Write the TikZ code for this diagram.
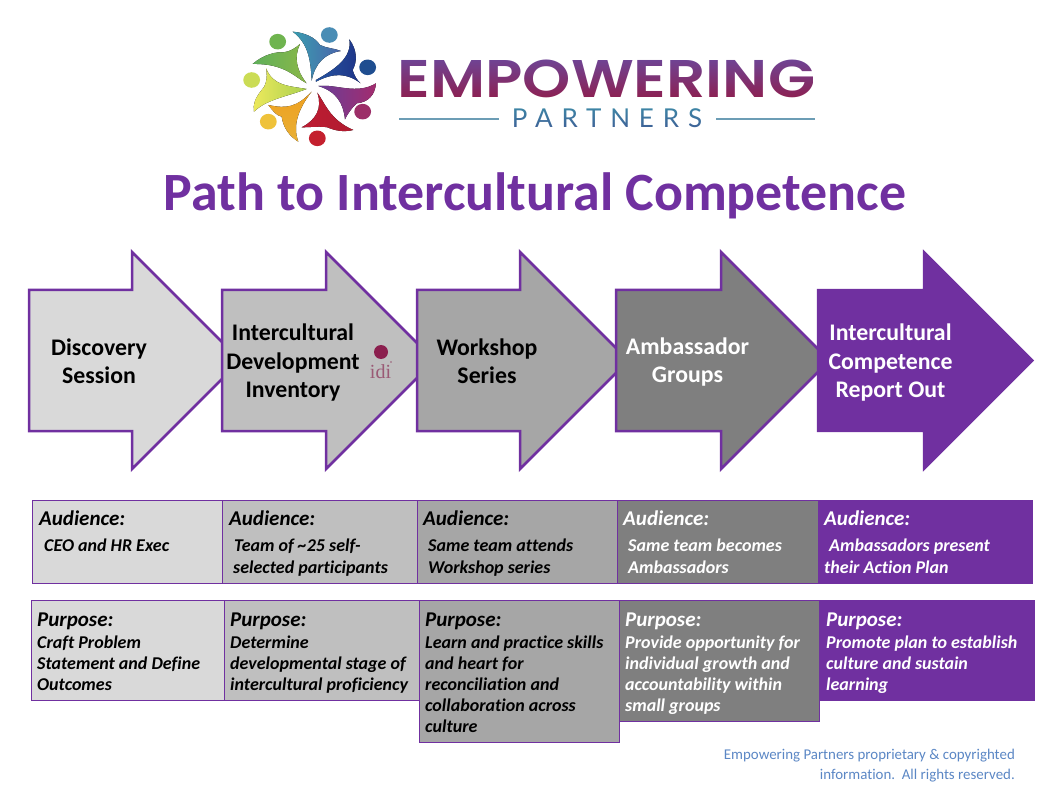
\documentclass[tikz,border=0pt]{standalone}
\usepackage{fontspec}
\usetikzlibrary{shapes.geometric}
\setmainfont{Carlito}[Ligatures=NoCommon]
\newfontfamily\logofont{Poppins SemiBold}
\newfontfamily\partfont[LetterSpace=34]{Lato}
\newfontfamily\idifont{Liberation Serif}
\definecolor{epurple}{HTML}{7030A0}
\definecolor{g1}{HTML}{D9D9D9}
\definecolor{g2}{HTML}{BFBFBF}
\definecolor{g3}{HTML}{A6A6A6}
\definecolor{g4}{HTML}{7F7F7F}
\definecolor{footblue}{HTML}{5B87C5}
\definecolor{idired}{HTML}{8B1F4E}
\definecolor{idifade}{HTML}{9A5A75}
\definecolor{logoline}{HTML}{6C9DB5}
\definecolor{emtop}{HTML}{6E4596}
\definecolor{embot}{HTML}{8E1E4E}
\definecolor{patop}{HTML}{3E8CA8}
\definecolor{pabot}{HTML}{3E5A94}
\definecolor{tealA}{HTML}{3A9DB0}\definecolor{tealB}{HTML}{4A64AA}\definecolor{tealH}{HTML}{4A8DB5}
\definecolor{navyA}{HTML}{2654A0}\definecolor{navyB}{HTML}{1E3487}\definecolor{navyH}{HTML}{1F4E90}
\definecolor{purpA}{HTML}{6A3E98}\definecolor{purpB}{HTML}{A32C6E}\definecolor{purpH}{HTML}{9C2E68}
\definecolor{redA}{HTML}{BE1C32}\definecolor{redB}{HTML}{B01C30}\definecolor{redH}{HTML}{C4202E}
\definecolor{oranA}{HTML}{EFA01F}\definecolor{oranB}{HTML}{E8B035}\definecolor{oranH}{HTML}{EFC23A}
\definecolor{yellA}{HTML}{EDE95C}\definecolor{yellB}{HTML}{A9D050}\definecolor{yellH}{HTML}{CBDC55}
\definecolor{greeA}{HTML}{5FAF5A}\definecolor{greeB}{HTML}{8AB848}\definecolor{greeH}{HTML}{6FB44F}
\tikzset{
  arrowshape/.style={draw=epurple,line width=2.5pt,line join=miter},
  cell/.style={draw=epurple,line width=1pt},
  steplabel/.style={font=\fontsize{23.8}{28.5}\selectfont\bfseries,align=center,inner sep=0pt},
  headtxt/.style={font=\fontsize{21}{25}\selectfont\bfseries\itshape,anchor=base west,inner sep=0pt},
  bodyaud/.style={font=\fontsize{18}{22}\selectfont\bfseries\itshape,anchor=north west,align=left,inner sep=0pt},
  bodypur/.style={font=\fontsize{18}{21}\selectfont\bfseries\itshape,anchor=north west,align=left,inner sep=0pt},
  headdot/.style={x radius=8.4pt,y radius=7.8pt},
}
\newcommand{\stepshape}[3]{% left, notch, fill
  \path[arrowshape,fill=#3] (#1,290) -- (#2,290) -- (#2,252) -- ({#2+108.5},360.5) -- (#2,469) -- (#2,431) -- (#1,431) -- cycle;}
\begin{document}
\begin{tikzpicture}[x=1pt,y=-1pt]
\useasboundingbox (0,0) rectangle (1055,786);
\fill[white] (0,0) rectangle (1055,786);
% logo mark
\begin{scope}[shift={(240,20)},x=0.3333pt,y=-0.3333pt]
  % teal
  \fill[left color=tealA,right color=tealB] (215,182) .. controls (212,120) and (205,70) .. (158,35)
    .. controls (195,38) and (225,52) .. (240,75) .. controls (260,85) and (285,85) .. (303,93)
    .. controls (255,100) and (225,130) .. (215,182) -- cycle;
  \fill[tealH] (268,45) circle [headdot];
  % navy
  \fill[left color=navyA,right color=navyB] (228,180) .. controls (280,150) and (338,115) .. (328,58)
    .. controls (352,90) and (352,125) .. (338,150) .. controls (342,165) and (350,180) .. (362,190)
    .. controls (320,158) and (280,158) .. (228,185) -- cycle;
  \fill[navyH] (383,142) circle [headdot];
  % purple
  \fill[left color=purpA,right color=purpB] (235,198) .. controls (290,192) and (350,225) .. (408,190)
    .. controls (405,225) and (385,247) .. (350,250) .. controls (335,265) and (322,282) .. (315,298)
    .. controls (310,250) and (290,215) .. (235,198) -- cycle;
  \fill[purpH] (368,275) circle [headdot];
  % red
  \fill[left color=redA,right color=redB] (232,218) .. controls (255,250) and (270,300) .. (340,330)
    .. controls (310,337) and (285,332) .. (262,322) .. controls (240,318) and (210,322) .. (185,322)
    .. controls (228,300) and (248,265) .. (232,218) -- cycle;
  \fill[redH] (232,355) circle [headdot];
  % orange
  \fill[top color=oranA,bottom color=oranB] (215,215) .. controls (170,262) and (140,267) .. (85,255)
    .. controls (100,275) and (110,287) .. (125,290) .. controls (130,325) and (150,350) .. (175,365)
    .. controls (158,320) and (172,270) .. (215,215) -- cycle;
  \fill[oranH] (85,305) circle [headdot];
  % yellow
  \fill[left color=yellA,right color=yellB] (200,207) .. controls (140,197) and (100,197) .. (78,145)
    .. controls (85,175) and (75,202) .. (65,210) .. controls (45,235) and (38,255) .. (42,275)
    .. controls (80,238) and (140,230) .. (200,207) -- cycle;
  \fill[yellH] (35,180) circle [headdot];
  % green
  \fill[left color=greeA,right color=greeB] (200,190) .. controls (165,172) and (135,130) .. (38,132)
    .. controls (70,103) and (110,95) .. (130,97) .. controls (150,95) and (165,85) .. (180,72)
    .. controls (162,110) and (168,150) .. (200,190) -- cycle;
  \fill[greeH] (113,65) circle [headdot];
\end{scope}
% logo wordmark: black text lit by a gradient in screen mode
\node[inner sep=0pt,anchor=base] (empw) at (606.5,98) {\scalebox{1.158}[1]{\logofont\fontsize{53}{60}\selectfont EMPOWERING}};
\node[inner sep=0pt,anchor=base] (part) at (607,128) {\partfont\fontsize{26}{30}\selectfont PARTNERS};
\begin{scope}[blend mode=screen]
  \shade[top color=emtop,bottom color=embot] (390,58) rectangle (825,100);
  \shade[top color=patop,bottom color=pabot] (505,104) rectangle (712,132);
\end{scope}
\coordinate (l1a) at (399,119); \coordinate (l1b) at (499,119);
\coordinate (l2a) at (716,119); \coordinate (l2b) at (815,119);
\draw[color=logoline,line width=1.3pt] (l1a) -- (l1b);
\draw[color=logoline,line width=1.3pt] (l2a) -- (l2b);
% title
\node[font=\fontsize{53.9}{60}\selectfont\bfseries,text=epurple,inner sep=0pt] (title) at (535,196) {Path to Intercultural Competence};
% arrows
\stepshape{29}{132}{g1}
\stepshape{222}{326}{g2}
\stepshape{417}{520}{g3}
\stepshape{616}{721}{g4}
\path[draw=epurple,line width=2.2pt,fill=epurple] (818,290) -- (924,290) -- (924,252) -- (1032.5,360.5) -- (924,469) -- (924,431) -- (818,431) -- cycle;
\node[steplabel] (s1) at (99,361) {Discovery\\Session};
\node[steplabel] (s2) at (293,363) {Intercultural\\Development\\Inventory};
\node[steplabel] (s3) at (487,361) {Workshop\\Series};
\node[steplabel,text=white] (s4) at (687.5,362) {Ambassador\\Groups};
\node[steplabel,text=white] (s5) at (890.5,363) {Intercultural\\Competence\\Report Out};
% idi logo
\fill[idired] (381,352) circle (7);
\node[inner sep=0pt,text=idifade,font=\idifont\fontsize{20}{21}\selectfont] (idi) at (380.5,372) {idi};
\fill[idifade] (391,362) circle (0.9);
% audience row
\path[cell,fill=g1] (32,500) rectangle (222,583);
\path[cell,fill=g2] (222,500) rectangle (417,583);
\path[cell,fill=g3] (417,500) rectangle (617,583);
\path[cell,fill=g4] (617,500) rectangle (818,583);
\path[fill=epurple] (818,499.5) rectangle (1033,583.5);
% purpose row
\path[cell,fill=g1] (31,600.5) rectangle (224,700);
\path[cell,fill=g2] (224,600.5) rectangle (419,700);
\path[cell,fill=g3] (419,600.5) rectangle (619,742);
\path[cell,fill=g4] (619,600.5) rectangle (819,721);
\path[fill=epurple] (819,600) rectangle (1035,700.5);
% audience text
\node[headtxt] (a1) at (39,525) {Audience:};
\node[headtxt] (a2) at (229,525) {Audience:};
\node[headtxt] (a3) at (423,525) {Audience:};
\node[headtxt,text=white] (a4) at (623,525) {Audience:};
\node[headtxt,text=white] (a5) at (824,525) {Audience:};
\node[bodyaud] (at1) at (44,539) {CEO and HR Exec};
\node[bodyaud] (at2) at (233,539) {\hspace*{1pt}Team of \textasciitilde25 self-\\selected participants};
\node[bodyaud] (at3) at (428,539) {Same team attends\\Workshop series};
\node[bodyaud,text=white] (at4) at (628,539) {Same team becomes\\Ambassadors};
\node[bodyaud,text=white] (at5) at (824,539) {\hspace*{5pt}Ambassadors present\\their Action Plan};
% purpose text
\node[headtxt] (p1) at (37,626) {Purpose:};
\node[headtxt] (p2) at (230,626) {Purpose:};
\node[headtxt] (p3) at (425,626) {Purpose:};
\node[headtxt,text=white] (p4) at (625,626) {Purpose:};
\node[headtxt,text=white] (p5) at (826,626) {Purpose:};
\node[bodypur] (pt1) at (37,636) {Craft Problem\\Statement and Define\\Outcomes};
\node[bodypur] (pt2) at (230,636) {Determine\\developmental stage of\\intercultural proficiency};
\node[bodypur] (pt3) at (425,636) {Learn and practice skills\\and heart for\\reconciliation and\\collaboration across\\culture};
\node[bodypur,text=white] (pt4) at (625,636) {Provide opportunity for\\individual growth and\\accountability within\\small groups};
\node[bodypur,text=white] (pt5) at (826,636) {Promote plan to establish\\culture and sustain\\learning};
% footer
\node[font=\fontsize{14.9}{19.5}\selectfont,text=footblue,align=right,anchor=north east,inner sep=0pt] (foot) at (1015,749) {Empowering Partners proprietary \& copyrighted\\information.\ \ All rights reserved.};
\end{tikzpicture}
\end{document}
